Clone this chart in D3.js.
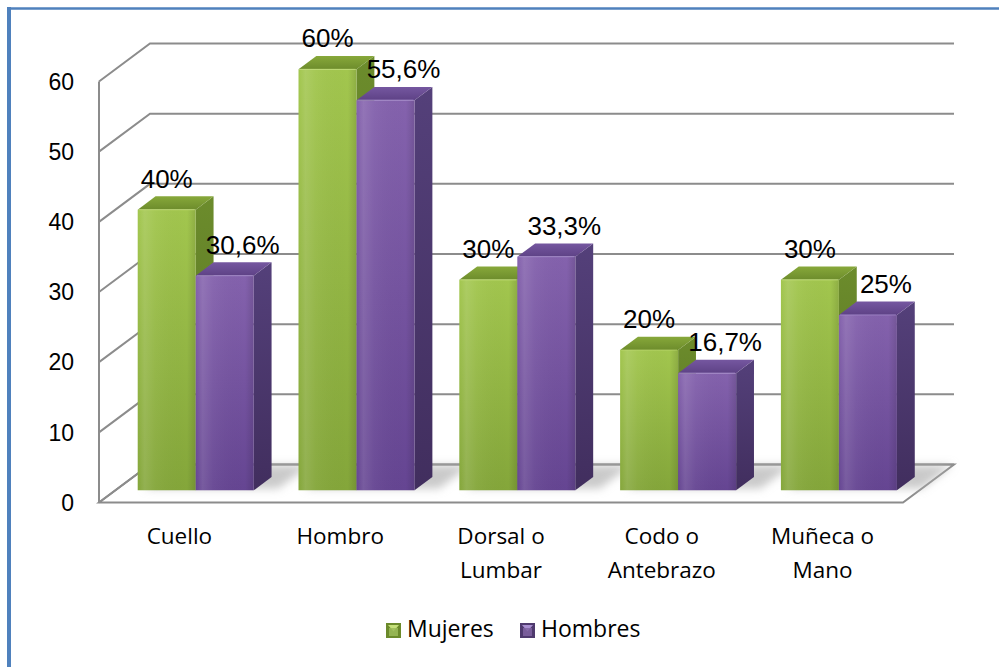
<!DOCTYPE html>
<html>
<head>
<meta charset="utf-8">
<script src="https://cdn.jsdelivr.net/npm/d3@7"></script>
<style>
  html, body { margin: 0; padding: 0; background: #fff; }
  svg { display: block; }
</style>
</head>
<body>
<script>
// ---- data ----
const categories = ["Cuello", "Hombro", "Dorsal o Lumbar", "Codo o Antebrazo", "Muñeca o Mano"];
const seriesNames = ["Mujeres", "Hombres"];
const mujeres = [40, 60, 30, 20, 30];
const hombres = [30.6, 55.6, 33.3, 16.7, 25];
const yTicks = [0, 10, 20, 30, 40, 50, 60];

// ---- setup ----
const W = 999, H = 667;
const svg = d3.select("body").append("svg").attr("width", W).attr("height", H);
const defs = svg.append("defs");

const locale = d3.formatLocale({ decimal: ",", thousands: ".", grouping: [3], currency: ["", "€"] });
const fmt = v => locale.format("~f")(v) + "%";

const DX = 51, DY = -38;          // oblique depth projection (z = 0 front, 1 back)
const zF = 0.32, zB = 0.67;       // bar depth range
const y = d3.scaleLinear().domain([0, 60]).range([502.5, 81.5]);
const x = d3.scaleBand().domain(categories).range([99, 903]).padding(0);
const xs = d3.scaleBand().domain(seriesNames).range([0, x.bandwidth()]).paddingInner(0).paddingOuter(0.386);
const P = (xf, v, z) => [xf + DX * z, y(v) + DY * z];
const poly = pts => "M" + pts.map(p => p.join(",")).join("L") + "Z";

// gradients
function vgrad(id, c1, c2) {
  const g = defs.append("linearGradient").attr("id", id).attr("x1", 0).attr("y1", 0).attr("x2", 0).attr("y2", 1);
  g.append("stop").attr("offset", "0%").attr("stop-color", c1);
  g.append("stop").attr("offset", "100%").attr("stop-color", c2);
}
function hgrad(id, stops) {
  const g = defs.append("linearGradient").attr("id", id).attr("x1", 0).attr("y1", 0).attr("x2", 1).attr("y2", 0);
  stops.forEach(s => g.append("stop").attr("offset", s[0]).attr("stop-color", s[1]).attr("stop-opacity", s[2] == null ? 1 : s[2]));
}
vgrad("gFront", "#a2c64e", "#84a63a");
vgrad("gTop", "#87a83a", "#6d8c2c");
vgrad("gSide", "#6c8c2c", "#566f22");
vgrad("pFront", "#8462ad", "#654592");
vgrad("pTop", "#7557a0", "#5e4286");
vgrad("pSide", "#54407a", "#412e5e");
hgrad("sheen", [["0%", "#fff", 0.0], ["12%", "#fff", 0.12], ["30%", "#fff", 0.04], ["85%", "#000", 0.0], ["100%", "#000", 0.12]]);

const blur = defs.append("filter").attr("id", "blur").attr("x", "-50%").attr("y", "-50%").attr("width", "200%").attr("height", "200%");
blur.append("feGaussianBlur").attr("stdDeviation", 4);

const colors = {
  Mujeres: { front: "url(#gFront)", top: "url(#gTop)", side: "url(#gSide)", base: "#9bbb59", dark: "#6b8a2b", light: "#c5e07a" },
  Hombres: { front: "url(#pFront)", top: "url(#pTop)", side: "url(#pSide)", base: "#8064a2", dark: "#4f3a6e", light: "#a98fd0" }
};

// ---- frame ----
svg.append("line").attr("x1", 7).attr("x2", W).attr("y1", 8.5).attr("y2", 8.5)
  .attr("stroke", "#4f81bd").attr("stroke-width", 2.6);
svg.append("line").attr("x1", 9).attr("x2", 9).attr("y1", 7).attr("y2", H)
  .attr("stroke", "#4f81bd").attr("stroke-width", 4);

// ---- walls, floor, grid ----
const grid = svg.append("g").attr("stroke", "#8c8c8c").attr("stroke-width", 2).attr("fill", "none");
const x0 = x.range()[0], x1 = x.range()[1];
grid.append("path").attr("d", poly([P(x0, 0, 0), P(x1, 0, 0), P(x1, 0, 1), P(x0, 0, 1)])).attr("fill", "#fff");
yTicks.forEach(t => {
  grid.append("path").attr("d", "M" + P(x0, t, 0) + "L" + P(x0, t, 1) + "L" + P(x1, t, 1));
});
grid.append("path").attr("d", "M" + P(x0, 0, 0) + "L" + P(x0, 60, 0));

// tick labels
svg.append("g").selectAll("text").data(yTicks).join("text")
  .attr("x", 74).attr("y", d => y(d)).attr("dy", "0.36em")
  .attr("text-anchor", "end")
  .attr("font-family", "Liberation Sans, Arial, sans-serif").attr("font-size", 23).attr("fill", "#000")
  .text(d => d);

// ---- bars ----
const rows = categories.map((c, i) => ({ cat: c, vals: [{ s: "Mujeres", v: mujeres[i] }, { s: "Hombres", v: hombres[i] }] }));

// floor shadows
const shadowG = svg.append("g").attr("filter", "url(#blur)");
rows.forEach(r => {
  const xl = x(r.cat) + xs("Mujeres"), xr = x(r.cat) + xs("Hombres") + xs.bandwidth();
  shadowG.append("path")
    .attr("d", poly([P(xl + 4, 0, zF + 0.05), P(xr + 22, 0, zF + 0.05), P(xr + 22, 0, 0.98), P(xl + 4, 0, 0.98)]))
    .attr("fill", "#b4b4b4").attr("opacity", 0.7);
});

const barG = svg.append("g");
rows.forEach(r => {
  r.vals.forEach(d => {
    const xl = x(r.cat) + xs(d.s), xr = xl + xs.bandwidth(), v = d.v, c = colors[d.s];
    const g = barG.append("g");
    g.append("path").attr("d", poly([P(xr, 0, zF), P(xr, 0, zB), P(xr, v, zB), P(xr, v, zF)])).attr("fill", c.side);
    g.append("path").attr("d", poly([P(xl, v, zF), P(xr, v, zF), P(xr, v, zB), P(xl, v, zB)])).attr("fill", c.top);
    g.append("path").attr("d", poly([P(xl, 0, zF), P(xr, 0, zF), P(xr, v, zF), P(xl, v, zF)])).attr("fill", c.front);
    g.append("path").attr("d", poly([P(xl, 0, zF), P(xr, 0, zF), P(xr, v, zF), P(xl, v, zF)])).attr("fill", "url(#sheen)");
    g.append("path").attr("d", "M" + P(xl + 1, v, zF) + "L" + P(xr - 1, v, zF))
      .attr("stroke", c.light).attr("stroke-width", 1.2).attr("opacity", 0.6);
  });
});

// ---- data labels ----
const labelShift = { Mujeres: 0, Hombres: 18 };
const labG = svg.append("g").attr("font-family", "Liberation Sans, Arial, sans-serif").attr("font-size", 26).attr("fill", "#000");
rows.forEach(r => {
  r.vals.forEach(d => {
    const xl = x(r.cat) + xs(d.s), xr = xl + xs.bandwidth();
    const p = P((xl + xr) / 2, d.v, zF);
    labG.append("text").attr("x", p[0] + labelShift[d.s]).attr("y", p[1] - 22)
      .attr("text-anchor", "middle").text(fmt(d.v));
  });
});

// ---- category labels ----
const catG = svg.append("g").attr("font-family", "Open Sans, sans-serif").attr("font-size", 22.5).attr("fill", "#000");
categories.forEach(c => {
  const lines = c.includes(" o ") ? [c.slice(0, c.indexOf(" o ") + 2), c.slice(c.indexOf(" o ") + 3)] : [c];
  const t = catG.append("text").attr("x", x(c) + x.bandwidth() / 2).attr("y", 544).attr("text-anchor", "middle");
  lines.forEach((l, i) => t.append("tspan").attr("x", x(c) + x.bandwidth() / 2).attr("dy", i ? 34 : 0).text(l));
});

// ---- legend ----
const legX = [386, 520];
const leg = svg.append("g");
seriesNames.forEach((s, i) => {
  const c = colors[s], lx = legX[i], ly = 623, sz = 15;
  leg.append("rect").attr("x", lx).attr("y", ly).attr("width", sz).attr("height", sz).attr("fill", c.dark);
  leg.append("path").attr("d", `M${lx + 2},${ly + 2}L${lx + sz - 2},${ly + 2}L${lx + sz / 2},${ly + sz / 2 + 1}Z`).attr("fill", c.light);
  leg.append("rect").attr("x", lx + 3).attr("y", ly + 5).attr("width", sz - 6).attr("height", sz - 7).attr("fill", c.base).attr("opacity", 0.85);
  leg.append("text").attr("x", lx + 21).attr("y", 637)
    .attr("font-family", "Open Sans, sans-serif").attr("font-size", 23).attr("fill", "#000").text(s);
});
</script>
</body>
</html>
